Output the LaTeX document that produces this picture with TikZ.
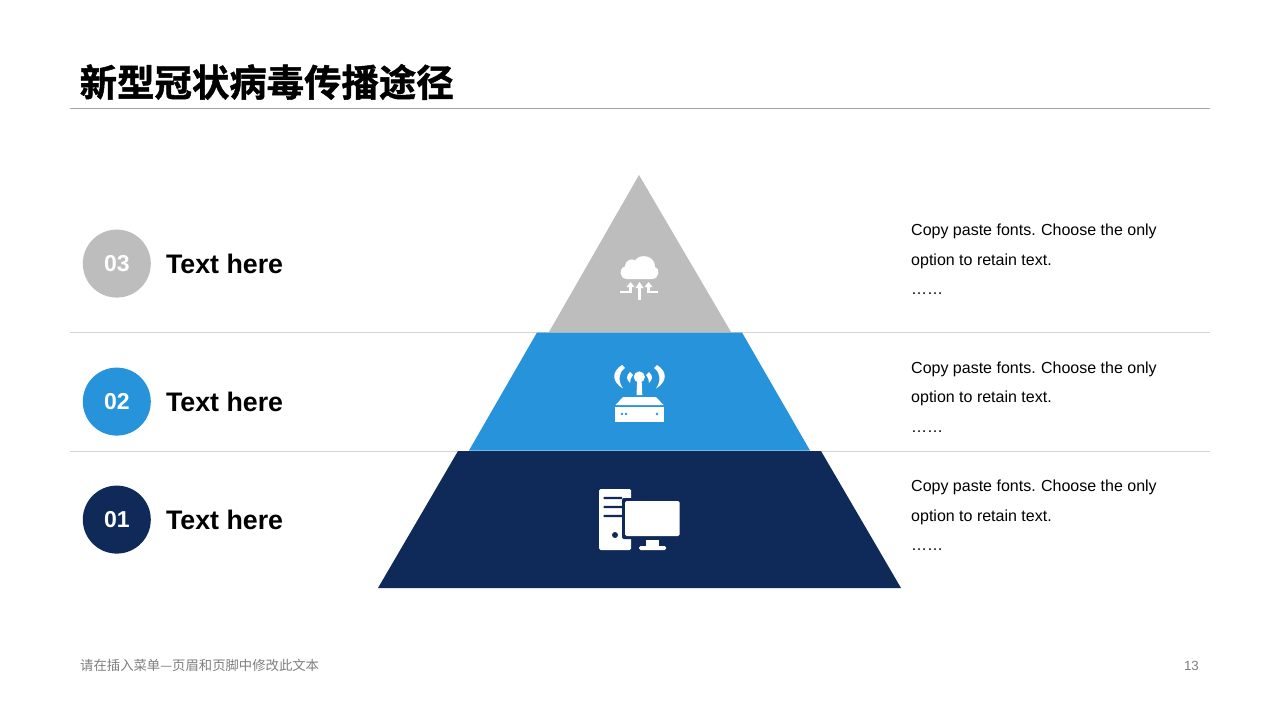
\documentclass[tikz,border=0pt]{standalone}
\usepackage{fontspec}
\setmainfont{Liberation Sans}
\newfontfamily\cjk{Noto Sans CJK SC}
\newfontfamily\cjkb[FakeBold=1.2]{Noto Sans CJK SC Bold}
\definecolor{navy}{HTML}{0F2A58}
\definecolor{azure}{HTML}{2693DB}
\definecolor{stone}{HTML}{BDBDBD}
\definecolor{rulecol}{HTML}{D4D4D4}
\definecolor{toprule}{HTML}{A6A6A6}
\definecolor{footcol}{HTML}{7F7F7F}
\newcommand{\copytext}{Copy paste fonts.\hspace{5.4pt}Choose the only\\option to retain text.\\……}
\tikzset{
  x=1pt,y=-1pt,
  rulel/.style={draw=rulecol,line width=1pt},
  badge/.style={circle,minimum size=68pt,inner sep=0pt,text=white,font=\fontsize{23}{23}\selectfont\bfseries},
  head/.style={anchor=west,inner sep=0pt,font=\fontsize{26.8}{27}\selectfont\bfseries},
  desc/.style={anchor=north west,inner sep=0pt,align=left,font=\fontsize{16}{29.5}\selectfont},
  ico/.style={fill=white,draw=none},
  icl/.style={draw=white,line width=2.2pt},
}
\begin{document}
\begin{tikzpicture}
\useasboundingbox (0,0) rectangle (1280,720);
\fill[white] (0,0) rectangle (1280,720);
\node[anchor=west,inner sep=0pt,font=\fontsize{37.4}{37.4}\selectfont\cjkb] (title) at (79.5,82) {新型冠状病毒传播途径};
\coordinate (ta) at (70,108); \coordinate (tb) at (1210,108);
\draw[draw=toprule,line width=1pt] (ta) -- (tb);
\coordinate (ra) at (70,332.5); \coordinate (rb) at (1210,332.5);
\coordinate (rc) at (70,451); \coordinate (rd) at (1210,451);
\draw[rulel] (ra) -- (rb);
\draw[rulel] (rc) -- (rd);
% pyramid
\fill[stone] (639,175) -- (731,332) -- (549,332) -- cycle;
\fill[azure] (537,332.5) -- (742,332.5) -- (810,450.5) -- (469,450.5) -- cycle;
\fill[navy] (458,451) -- (821,451) -- (901,588) -- (378,588) -- cycle;
% badges
\node[badge,fill=stone] (b3) at (116.8,263.6) {03};
\node[badge,fill=azure] (b2) at (116.8,401.6) {02};
\node[badge,fill=navy] (b1) at (116.8,519.6) {01};
\node[head] (h3) at (165.8,264) {Text here};
\node[head] (h2) at (165.8,402) {Text here};
\node[head] (h1) at (165.8,520) {Text here};
% descriptions
\node[desc] (d3) at (911,224) {\copytext};
\node[desc] (d2) at (911,361.5) {\copytext};
\node[desc] (d1) at (911,480) {\copytext};
% footer
\node[anchor=west,inner sep=0pt,text=footcol,font=\fontsize{13.35}{14}\selectfont\cjk] (foot) at (80,665.5) {请在插入菜单—页眉和页脚中修改此文本};
\node[anchor=east,inner sep=0pt,text=footcol,font=\fontsize{13.3}{14}\selectfont] (num) at (1199,665.5) {13};
% cloud icon
\fill[ico] (627,279) .. controls (619,279) and (618.5,268) .. (625,266.5)
  .. controls (625.5,259.5) and (632,258) .. (635,260.5)
  .. controls (639,253.5) and (655,254.5) .. (655,267)
  .. controls (660.5,268) and (659.5,279) .. (652,279) -- cycle;
\draw[icl] (639.5,300) -- (639.5,287);
\fill[ico] (639.5,282) -- (643.5,288) -- (635.5,288) -- cycle;
\draw[icl] (620,291.7) -- (630.5,291.7) -- (630.5,286.5);
\fill[ico] (630.5,282) -- (634.5,287) -- (626.5,287) -- cycle;
\draw[icl] (658,291.7) -- (648.5,291.7) -- (648.5,286.5);
\fill[ico] (648.5,282) -- (652.5,287) -- (644.5,287) -- cycle;
% router icon
\fill[ico] (639.3,377) circle (5.6);
\fill[ico] (637.2,380) -- (641.6,380) -- (642.3,395) -- (636.5,395) -- cycle;
\fill[ico] (623,397) -- (656,397) -- (663.5,405) -- (615.5,405) -- cycle;
\fill[ico] (615,407) rectangle (664,422);
\fill[azure] (622,414) circle (1.4) (626,414) circle (1.4) (657,414) circle (1.4);
\fill[ico] (622,365) .. controls (611,372) and (612,382) .. (623,388.5)
  .. controls (618,381) and (618,373) .. (625,368) -- cycle;
\fill[ico] (657,365) .. controls (668,372) and (667,382) .. (656,388.5)
  .. controls (661,381) and (661,373) .. (654,368) -- cycle;
\fill[ico] (630,372) .. controls (626,376) and (626,379) .. (630,383)
  .. controls (630,380) and (631,377) .. (633,375) -- cycle;
\fill[ico] (649,372) .. controls (653,376) and (653,379) .. (649,383)
  .. controls (649,380) and (648,377) .. (646,375) -- cycle;
% computer icon
\fill[ico,rounded corners=1.5pt] (599,489) rectangle (631,550);
\fill[navy] (603.5,496.8) rectangle (622,499.2) (603.5,505.8) rectangle (624,508.2) (603.5,514.8) rectangle (624,517.2);
\fill[navy] (615,535) circle (3);
\fill[navy,rounded corners=2pt] (622,498) rectangle (683,539);
\fill[ico,rounded corners=1.5pt] (625,501) rectangle (679.5,536);
\fill[ico] (646,540) rectangle (658.5,546);
\fill[ico,rounded corners=1.5pt] (639,546) rectangle (666,550);
\end{tikzpicture}
\end{document}
